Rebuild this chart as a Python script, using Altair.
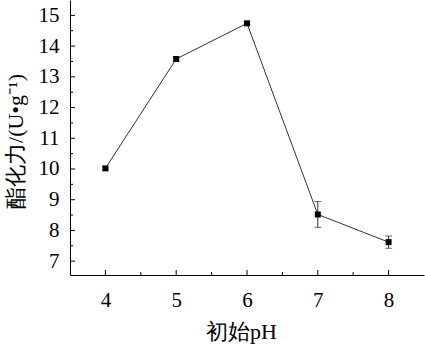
import altair as alt
import pandas as pd

ph = [4, 5, 6, 7, 8]
activity = [10.02, 13.58, 14.74, 8.52, 7.62]
err = [0.05, 0.07, 0.05, 0.42, 0.2]

y_major = [7, 8, 9, 10, 11, 12, 13, 14, 15]
y_minor = [7.5, 8.5, 9.5, 10.5, 11.5, 12.5, 13.5, 14.5]
x_major = [4, 5, 6, 7, 8]
x_minor = [4.5, 5.5, 6.5, 7.5]

W, H = 354, 275
FONT = "Liberation Serif, Times New Roman, serif"

df = pd.DataFrame({"ph": ph, "act": activity, "err": err})
df["lo"] = df["act"] - df["err"]
df["hi"] = df["act"] + df["err"]

xs = alt.Scale(domain=[3.5, 8.5], nice=False, zero=False)
ys = alt.Scale(domain=[6.55, 15.5], nice=False, zero=False)

xax = alt.Axis(values=x_major, format="d", title="初始pH", ticks=False,
               labelPadding=14, titlePadding=11, grid=False, labelOverlap=False,
               titleX=171)
yax = alt.Axis(values=y_major, format="d", title="酯化力/(U•g⁻¹)", ticks=False,
               labelPadding=11, titlePadding=11, grid=False, labelOverlap=False,
               titleY=141)


def X(f):
    return alt.X(f, scale=xs, axis=xax, title="初始pH")


def Y(f):
    return alt.Y(f, scale=ys, axis=yax, title="酯化力/(U•g⁻¹)")


base = alt.Chart(df)
line = base.mark_line(color="#333333", strokeWidth=1).encode(x=X("ph:Q"), y=Y("act:Q"))
bars = base.mark_rule(color="#333333", strokeWidth=1).encode(x=X("ph:Q"), y=Y("lo:Q"), y2="hi:Q")
cap_lo = base.mark_tick(color="#333333", thickness=1, size=7, orient="horizontal").encode(
    x=X("ph:Q"), y=Y("lo:Q"))
cap_hi = base.mark_tick(color="#333333", thickness=1, size=7, orient="horizontal").encode(
    x=X("ph:Q"), y=Y("hi:Q"))
pts = base.mark_square(color="black", size=36, opacity=1).encode(x=X("ph:Q"), y=Y("act:Q"))

ymaj = alt.Chart(pd.DataFrame({"v": y_major})).mark_rule(color="black", strokeWidth=1).encode(
    y=Y("v:Q"), x=alt.value(0), x2=alt.value(5))
ymin = alt.Chart(pd.DataFrame({"v": y_minor})).mark_rule(color="black", strokeWidth=1).encode(
    y=Y("v:Q"), x=alt.value(0), x2=alt.value(3))
xmaj = alt.Chart(pd.DataFrame({"v": x_major})).mark_rule(color="black", strokeWidth=1).encode(
    x=X("v:Q"), y=alt.value(H), y2=alt.value(H - 5))
xmin = alt.Chart(pd.DataFrame({"v": x_minor})).mark_rule(color="black", strokeWidth=1).encode(
    x=X("v:Q"), y=alt.value(H), y2=alt.value(H - 3))

chart = alt.layer(line, ymaj, ymin, xmaj, xmin, bars, cap_lo, cap_hi, pts).properties(
    width=W, height=H,
    autosize=alt.AutoSizeParams(type="none"),
    padding={"left": 70, "top": 0, "right": 1, "bottom": 72},
).configure_view(stroke=None).configure_axis(
    domainColor="black", domainWidth=1, labelOverlap=False,
    labelFont=FONT, labelFontSize=21, labelColor="black",
    titleFont=FONT, titleFontSize=22, titleColor="black", titleFontWeight="normal",
)

chart.save("out.html", embed_options={"renderer": "svg", "actions": False})
